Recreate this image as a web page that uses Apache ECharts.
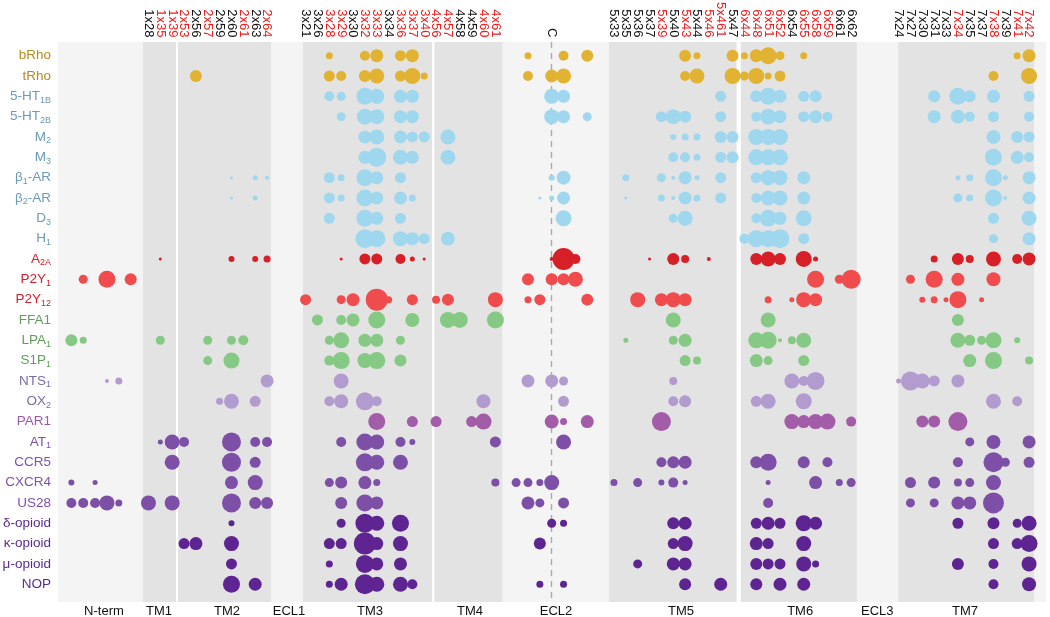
<!DOCTYPE html>
<html><head><meta charset="utf-8">
<script src="https://cdn.jsdelivr.net/npm/echarts@6/dist/echarts.min.js"></script>
<style>html,body{margin:0;padding:0;background:#fff}#c{width:1050px;height:617px}</style>
</head><body><div id="c"></div>
<script>
// ---------------- DATA ----------------
const receptors = ['bRho','tRho','5-HT1B','5-HT2B','M2','M3','β1-AR','β2-AR','D3','H1','A2A','P2Y1','P2Y12','FFA1','LPA1','S1P1','NTS1','OX2','PAR1','AT1','CCR5','CXCR4','US28','δ-opioid','κ-opioid','μ-opioid','NOP'];
const receptorLabelParts = [['bRho'],['tRho'],['5-HT','1B'],['5-HT','2B'],['M','2'],['M','3'],['β','1','-AR'],['β','2','-AR'],['D','3'],['H','1'],['A','2A'],['P2Y','1'],['P2Y','12'],['FFA1'],['LPA','1'],['S1P','1'],['NTS','1'],['OX','2'],['PAR1'],['AT','1'],['CCR5'],['CXCR4'],['US28'],['δ-opioid'],['κ-opioid'],['μ-opioid'],['NOP']];

// residue columns per region (lower-case ids = unlabelled positions)
const ntermCols = ['n1','n2','n3','n4','n5','n6'];
const tm1Cols = ['1x28','1x35','1x39'];
const tm2Cols = ['2x53','2x56','2x57','2x59','2x60','2x61','2x63','2x64'];
const tm3Cols = ['3x21','3x26','3x28','3x29','3x30','3x32','3x33','3x34','3x36','3x37','3x40'];
const tm4Cols = ['4x56','4x57','4x58','4x59','4x60','4x61'];
const ecl2Cols = ['e1','e2','e3','C','e5','e6','e7'];
const tm5Cols = ['5x33','5x35','5x36','5x37','5x39','5x40','5x43','5x44','5x46','5x461','5x47'];
const tm6Cols = ['6x44','6x48','6x51','6x52','6x54','6x55','6x58','6x59','6x61','6x62'];
const tm7Cols = ['7x24','7x27','7x30','7x31','7x33','7x34','7x35','7x37','7x38','7x39','7x41','7x42'];
const redResidues = ['1x35','1x39','2x53','2x57','2x61','2x64','3x28','3x29','3x32','3x33','3x36','3x37','3x40','4x56','4x57','4x60','4x61','5x39','5x43','5x46','5x461','6x44','6x48','6x51','6x52','6x55','6x58','6x59','7x34','7x38','7x41','7x42'];
const regionNames = ['N-term','TM1','TM2','ECL1','TM3','TM4','ECL2','TM5','TM6','ECL3','TM7'];

// [residue, score] per receptor
const d_bRho = [['3x28',7],['3x32',10],['3x33',13],['3x36',11],['3x37',13],['e2',7],['e5',10],['e7',12],['5x43',12],['5x44',7],['5x47',12],['6x44',7],['6x48',13],['6x51',17],['6x52',9],['6x55',7],['7x41',7],['7x42',13]];
const d_tRho = [['2x56',12],['3x28',11],['3x29',10],['3x32',12],['3x33',15],['3x36',11],['3x37',16],['3x40',7],['e2',10],['C',13],['e5',15],['5x43',10],['5x44',15],['5x47',16],['6x44',9],['6x48',16],['6x51',7],['6x52',11],['7x38',10],['7x42',16]];
const d_5HT1B = [['3x28',10],['3x29',9],['3x32',17],['3x33',15],['3x36',13],['3x37',13],['C',15],['e5',13],['5x461',11],['6x48',12],['6x51',17],['6x52',13],['6x55',11],['6x58',12],['7x31',12],['7x34',17],['7x35',12],['7x38',13],['7x42',11]];
const d_5HT2B = [['3x29',9],['3x32',16],['3x33',15],['3x36',13],['3x37',13],['C',15],['e5',13],['e7',9],['5x39',11],['5x40',15],['5x43',12],['5x461',11],['6x48',10],['6x51',16],['6x52',13],['6x55',11],['6x58',13],['6x59',10],['7x31',13],['7x34',14],['7x35',10],['7x38',11],['7x42',10]];
const d_M2 = [['3x32',13],['3x33',15],['3x36',13],['3x37',11],['3x40',11],['4x57',15],['5x40',6],['5x43',7],['5x44',7],['5x461',12],['5x47',12],['6x48',16],['6x51',16],['6x52',16],['7x38',14],['7x41',12],['7x42',11]];
const d_M3 = [['3x32',13],['3x33',19],['3x36',15],['3x37',13],['4x57',15],['5x40',10],['5x43',10],['5x44',7],['5x461',11],['5x47',12],['6x48',16],['6x51',16],['6x52',16],['7x38',17],['7x41',13],['7x42',10]];
const d_b1AR = [['2x60',3],['2x63',5],['2x64',4],['3x28',11],['3x29',7],['3x32',17],['3x33',13],['3x36',11],['C',6],['e5',14],['5x35',7],['5x39',9],['5x40',4],['5x43',13],['5x44',5],['5x461',11],['6x48',11],['6x51',15],['6x52',15],['6x55',13],['7x34',5],['7x35',7],['7x38',17],['7x39',5],['7x42',13]];
const d_b2AR = [['2x60',3],['2x63',5],['3x28',11],['3x29',7],['3x32',17],['3x33',13],['3x36',13],['3x37',7],['e3',3],['C',5],['e5',13],['5x35',3],['5x39',7],['5x40',4],['5x43',13],['5x44',7],['5x461',11],['6x48',10],['6x51',15],['6x52',15],['6x55',13],['7x34',9],['7x35',7],['7x38',17],['7x39',4],['7x42',13]];
const d_D3 = [['3x28',11],['3x32',17],['3x33',13],['3x36',11],['e5',16],['5x40',9],['5x43',15],['6x48',10],['6x51',17],['6x52',13],['6x55',16],['7x38',11],['7x42',15]];
const d_H1 = [['3x32',19],['3x33',17],['3x36',15],['3x37',13],['3x40',11],['4x57',14],['6x44',10],['6x48',17],['6x51',17],['6x52',19],['6x55',11],['7x38',9],['7x42',13]];
const d_A2A = [['1x35',3],['2x60',6],['2x63',6],['2x64',7],['3x29',3],['3x32',11],['3x33',11],['3x36',10],['3x37',5],['3x40',3],['C',4],['e5',22],['e6',10],['5x37',3],['5x40',12],['5x43',8],['5x46',4],['6x48',12],['6x51',15],['6x52',12],['6x55',16],['6x58',5],['7x31',7],['7x34',12],['7x35',8],['7x38',15],['7x41',10],['7x42',13]];
const d_P2Y1 = [['n2',9],['n4',17],['n6',12],['e2',12],['C',12],['e5',12],['e6',15],['6x58',17],['6x61',9],['6x62',19],['7x27',9],['7x31',17],['7x34',13],['7x38',14]];
const d_P2Y12 = [['3x21',11],['3x29',9],['3x30',13],['3x33',22],['3x34',7],['3x37',11],['4x56',8],['4x57',12],['4x61',15],['e2',7],['e3',11],['e7',12],['5x36',15],['5x39',13],['5x40',15],['5x43',13],['6x51',7],['6x54',5],['6x55',15],['6x58',13],['7x30',6],['7x31',7],['7x33',5],['7x34',17],['7x37',5]];
const d_FFA1 = [['3x26',11],['3x29',10],['3x30',13],['3x33',17],['3x37',14],['4x57',16],['4x58',16],['4x61',17],['5x40',15],['6x51',15],['7x34',12]];
const d_LPA1 = [['n1',12],['n2',7],['1x35',9],['2x57',9],['2x60',9],['2x61',10],['3x28',9],['3x29',16],['3x32',13],['3x33',13],['3x36',9],['5x35',5],['5x40',9],['5x43',13],['6x48',16],['6x51',17],['6x52',4],['6x54',8],['6x55',15],['7x34',15],['7x35',11],['7x37',9],['7x38',16],['7x41',6]];
const d_S1P1 = [['2x57',9],['2x60',16],['3x28',10],['3x29',17],['3x32',15],['3x33',17],['3x36',12],['5x43',11],['5x44',8],['6x48',13],['6x51',9],['6x55',11],['7x35',13],['7x38',17],['7x42',8]];
const d_NTS1 = [['n4',4],['n5',7],['2x64',13],['3x29',15],['e2',13],['C',13],['e5',9],['5x40',8],['6x54',15],['6x55',10],['6x58',18],['7x24',5],['7x27',19],['7x30',15],['7x31',11],['7x34',13]];
const d_OX2 = [['2x59',7],['2x60',15],['2x63',11],['3x28',10],['3x29',14],['3x32',18],['3x33',10],['4x60',14],['e5',11],['5x40',10],['5x43',12],['6x48',11],['6x51',15],['6x55',16],['7x38',15],['7x41',10]];
const d_PAR1 = [['3x33',17],['3x37',11],['4x56',11],['4x59',11],['4x60',16],['C',14],['e5',7],['e7',13],['5x39',19],['6x54',15],['6x55',13],['6x58',15],['6x59',16],['6x62',10],['7x30',12],['7x31',12],['7x34',19]];
const d_AT1 = [['1x35',5],['1x39',15],['2x53',10],['2x60',19],['2x63',10],['2x64',10],['3x29',10],['3x32',17],['3x33',15],['3x36',10],['3x37',6],['4x61',11],['e5',15],['7x35',9],['7x38',14],['7x42',13]];
const d_CCR5 = [['1x39',15],['2x60',19],['2x63',11],['3x32',18],['3x33',15],['3x36',15],['5x39',10],['5x40',12],['5x43',13],['6x48',12],['6x51',17],['6x55',12],['6x59',10],['7x34',10],['7x38',20],['7x39',9],['7x42',11]];
const d_CXCR4 = [['n1',6],['n3',5],['2x60',13],['2x63',15],['3x28',9],['3x29',12],['3x32',13],['3x33',7],['4x61',8],['e1',9],['e2',9],['e3',7],['C',15],['5x33',7],['5x36',9],['5x39',6],['5x40',10],['5x43',5],['6x51',5],['6x58',13],['6x61',7],['6x62',9],['7x27',11],['7x31',12],['7x34',8],['7x35',9],['7x38',15]];
const d_US28 = [['n1',10],['n2',10],['n3',10],['n4',15],['n5',7],['1x28',15],['1x39',15],['2x60',19],['2x63',12],['2x64',12],['3x29',12],['3x32',17],['3x33',13],['e2',13],['e3',9],['e5',11],['6x51',10],['7x27',9],['7x31',9],['7x34',13],['7x35',13],['7x38',21]];
const d_delta = [['2x60',6],['3x29',9],['3x32',19],['3x33',15],['3x36',17],['C',9],['e5',7],['5x40',12],['5x43',13],['6x48',11],['6x51',13],['6x52',11],['6x55',16],['6x58',13],['7x34',11],['7x38',12],['7x41',9],['7x42',15]];
const d_kappa = [['2x53',11],['2x56',13],['2x60',15],['3x28',11],['3x29',11],['3x32',22],['3x33',13],['3x36',15],['e3',12],['5x40',11],['5x43',15],['6x48',13],['6x51',11],['6x55',15],['7x38',11],['7x41',11],['7x42',17]];
const d_mu = [['2x60',11],['3x28',7],['3x32',18],['3x33',13],['3x36',13],['5x36',9],['5x40',13],['5x43',13],['6x48',12],['6x51',11],['6x52',11],['6x55',15],['6x58',7],['7x34',12],['7x38',10],['7x42',15]];
const d_NOP = [['2x60',17],['2x63',13],['3x28',7],['3x29',13],['3x32',20],['3x33',15],['3x36',15],['3x37',10],['e3',7],['e5',7],['5x43',12],['5x461',13],['6x48',12],['6x52',13],['6x55',13],['7x38',10],['7x42',14]];

const rowData = [d_bRho,d_tRho,d_5HT1B,d_5HT2B,d_M2,d_M3,d_b1AR,d_b2AR,d_D3,d_H1,d_A2A,d_P2Y1,d_P2Y12,d_FFA1,d_LPA1,d_S1P1,d_NTS1,d_OX2,d_PAR1,d_AT1,d_CCR5,d_CXCR4,d_US28,d_delta,d_kappa,d_mu,d_NOP];

// ---------------- STYLE / LAYOUT ----------------
const rowGroup = [0,0,1,1,1,1,1,1,1,1,2,3,3,4,4,4,5,5,6,7,7,7,7,8,8,8,8];
const labelColors = ['#b38b22','#6b9bb8','#d1202a','#d1202a','#5f9e5b','#7d6ba8','#9c5aae','#8050b0','#5a2a8e'];
const bubbleColors = ['#e2b332','#9fd7ef','#d61f26','#f04b4d','#86c985','#b29ccf','#a25ca8','#7d4fa7','#5e2491'];
const FONT = "'Liberation Sans', Arial, Helvetica, sans-serif";
const RED = '#f01a1a';
const X0 = 68.4, STEP = 11.86, Q = 4;           // column pixel origin / spacing, quarter slots
const regionCols = [ntermCols,tm1Cols,tm2Cols,tm3Cols,tm4Cols,ecl2Cols,tm5Cols,tm6Cols,tm7Cols];
const regionStart = [0.25,6.75,9.75,20,31,37.75,46,57,70];   // column units
const bands = [[6.29,9.07],[9.24,17.08],[19.78,30.68],[30.85,36.59],[45.58,56.35],[56.69,66.47],[69.97,81.42]];
const gaps = [[9.07,9.24],[30.68,30.85],[56.35,56.69]];
const regionLabelCenter = [3.0,7.64,13.37,18.6,25.43,33.86,41.11,51.66,61.7,68.2,75.6];
const SIZE_K = 1.0;
const panel = {left:58, top:42, width:988, height:560};
const rowTop = 45.5, rowH = 20.33;

// slot axis
const NSLOT = Q*81 + 1;
const slotNames = []; for (let k=0;k<NSLOT;k++) slotNames.push('_'+k);
const colSlot = {};
regionCols.forEach((cols, r) => cols.forEach((c, i) => {
  const s = Math.round((regionStart[r] + i) * Q);
  slotNames[s] = c; colSlot[c] = s;
}));
const redSet = new Set(redResidues);
const showLabel = v => !(v[0]==='_' || /^[ne]\d$/.test(v));

const rich = {};
labelColors.forEach((c,g) => {
  rich['m'+g] = {color:c, fontSize:13.5, lineHeight:17, fontFamily:FONT};
  rich['s'+g] = {color:c, fontSize:9, lineHeight:9, padding:[8,0,0,0], fontFamily:FONT};
});

const series = [];
// decorations on panel grid
const markAreas = [];
bands.forEach(b => markAreas.push([{xAxis:b[0], yAxis:0, itemStyle:{color:'#e3e3e3'}},{xAxis:b[1], yAxis:1}]));
gaps.forEach(b => markAreas.push([{xAxis:b[0], yAxis:0, itemStyle:{color:'#ffffff'}},{xAxis:b[1], yAxis:1}]));
regionNames.forEach((n,i) => markAreas.push([
  {name:n, xAxis:regionLabelCenter[i]-0.5, yAxis:0, itemStyle:{color:'rgba(0,0,0,0)'},
   label:{show:true, position:'bottom', distance:3, formatter:n, color:'#111', fontSize:13, fontFamily:FONT}},
  {xAxis:regionLabelCenter[i]+0.5, yAxis:1}]));
series.push({
  type:'line', xAxisIndex:1, yAxisIndex:1, data:[[0,-5]], symbol:'none', silent:true, z:1,
  lineStyle:{opacity:0},
  markArea:{silent:true, z:1, label:{show:false}, data:markAreas},
  markLine:{silent:true, symbol:'none', z:2, label:{show:false},
    lineStyle:{type:[6,5], color:'#aaaaaa', width:1.4},
    data:[[{xAxis:regionStart[5]+ecl2Cols.indexOf('C'), yAxis:1}, {xAxis:regionStart[5]+ecl2Cols.indexOf('C'), yAxis:0}]]}
});
rowData.forEach((arr, i) => {
  series.push({
    type:'scatter', xAxisIndex:0, yAxisIndex:0, silent:true, z:5,
    data: arr.map(([c,v]) => [colSlot[c], i, v]),
    symbolSize: d => d[2]*SIZE_K,
    itemStyle:{color:bubbleColors[rowGroup[i]], opacity:1}
  });
});

const chart = echarts.init(document.getElementById('c'), null, {renderer:'canvas'});
chart.setOption({
  animation:false,
  backgroundColor:'#ffffff',
  grid:[
    {left:X0 - STEP/(2*Q), top:rowTop, width:NSLOT*STEP/Q, height:receptors.length*rowH, containLabel:false, outerBoundsMode:'none'},
    {left:panel.left, top:panel.top, width:panel.width, height:panel.height, show:true, backgroundColor:'#f4f4f4', borderWidth:0, containLabel:false, outerBoundsMode:'none'}
  ],
  xAxis:[
    {type:'category', gridIndex:0, position:'top', data:slotNames, boundaryGap:true,
     axisLine:{show:false}, axisTick:{show:false}, splitLine:{show:false},
     axisLabel:{interval:0, rotate:90, margin:8, fontSize:13, fontFamily:FONT,
       formatter:v => showLabel(v) ? v : '',
       color:v => redSet.has(v) ? RED : '#111'}},
    {type:'value', gridIndex:1, show:false,
     min:(panel.left - X0)/STEP, max:(panel.left + panel.width - X0)/STEP, splitLine:{show:false}}
  ],
  yAxis:[
    {type:'category', gridIndex:0, inverse:true, data:receptors, boundaryGap:true,
     axisLine:{show:false}, axisTick:{show:false}, splitLine:{show:false},
     axisLabel:{interval:0, margin:16, fontFamily:FONT,
       formatter:(v, i) => {
         const p = receptorLabelParts[i], g = rowGroup[i];
         let s = '{m'+g+'|'+p[0]+'}';
         if (p[1]) s += '{s'+g+'|'+p[1]+'}';
         if (p[2]) s += '{m'+g+'|'+p[2]+'}';
         return s;
       }, rich:rich}},
    {type:'value', gridIndex:1, show:false, min:0, max:1, splitLine:{show:false}}
  ],
  series:series
});
</script></body></html>
